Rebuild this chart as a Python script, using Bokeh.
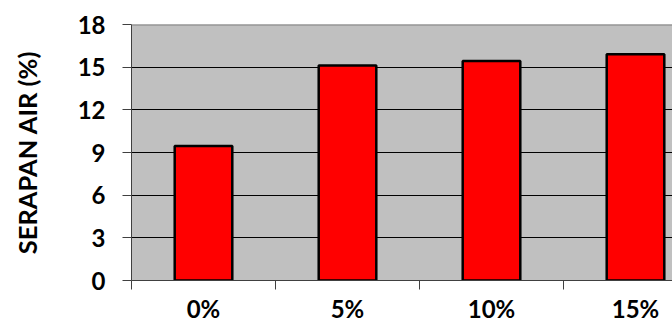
from bokeh.plotting import figure
from bokeh.models import (ColumnDataSource, Range1d, FixedTicker, Span, LinearAxis)
from bokeh.embed import file_html
from bokeh.resources import INLINE

categories = ["0%", "5%", "10%", "15%"]
values = [9.45, 15.12, 15.44, 15.91]
y_ticks = [0, 3, 6, 9, 12, 15, 18]
y_label = "SERAPAN AIR (%)"

FONT = "Lato"
PX_PER_CAT = 144
FRAME_LEFT = 131
W, H = 672, 325

xs = [i + 0.5 for i in range(len(categories))]
bounds = [float(i) for i in range(len(categories) + 1)]
src = ColumnDataSource(dict(x=xs, top=values, cat=categories))

p = figure(width=W, height=H, output_backend="svg", toolbar_location=None,
           x_range=Range1d(0, (W - FRAME_LEFT) / PX_PER_CAT),
           y_range=Range1d(0, 18),
           x_axis_location=None, y_axis_location=None,
           min_border_left=FRAME_LEFT, min_border_top=24,
           min_border_bottom=43, min_border_right=0)
p.background_fill_color = "#C0C0C0"
p.border_fill_color = "white"
p.outline_line_color = None

# y axis
yaxis = LinearAxis(ticker=FixedTicker(ticks=y_ticks, minor_ticks=[]))
yaxis.axis_label = y_label
yaxis.axis_label_text_font = FONT
yaxis.axis_label_text_font_style = "bold"
yaxis.axis_label_text_font_size = "25.5px"
yaxis.axis_label_text_color = "black"
yaxis.axis_label_standoff = 33
yaxis.major_label_text_font = FONT
yaxis.major_label_text_font_style = "bold"
yaxis.major_label_text_font_size = "24px"
yaxis.major_label_text_color = "black"
yaxis.major_label_standoff = 17
yaxis.major_tick_out = 9
yaxis.major_tick_in = 0
yaxis.minor_tick_out = 0
yaxis.minor_tick_in = 0
yaxis.axis_line_color = "#404040"
yaxis.major_tick_line_color = "#404040"
p.add_layout(yaxis, "left")

# x axis: labels at category centres, tick marks at category boundaries
xaxis = LinearAxis(ticker=FixedTicker(ticks=xs, minor_ticks=bounds))
xaxis.major_label_overrides = {x: c for x, c in zip(xs, categories)}
xaxis.major_label_text_font = FONT
xaxis.major_label_text_font_style = "bold"
xaxis.major_label_text_font_size = "24px"
xaxis.major_label_text_color = "black"
xaxis.major_label_standoff = 4
xaxis.major_tick_out = 9
xaxis.major_tick_in = 0
xaxis.major_tick_line_color = None
xaxis.minor_tick_out = 9
xaxis.minor_tick_in = 0
xaxis.minor_tick_line_color = "#404040"
xaxis.axis_line_color = "#404040"
p.add_layout(xaxis, "below")

p.xgrid.visible = False
p.ygrid.ticker = FixedTicker(ticks=y_ticks[1:-1])
p.ygrid.grid_line_color = "black"
p.ygrid.grid_line_width = 1

p.add_layout(Span(location=y_ticks[-1], dimension="width", line_color="#808080", line_width=2))

p.vbar(x="x", top="top", width=0.4, bottom=0, source=src,
       fill_color="#FF0000", line_color="black", line_width=2.5)

open("out.html", "w").write(file_html(p, INLINE))
